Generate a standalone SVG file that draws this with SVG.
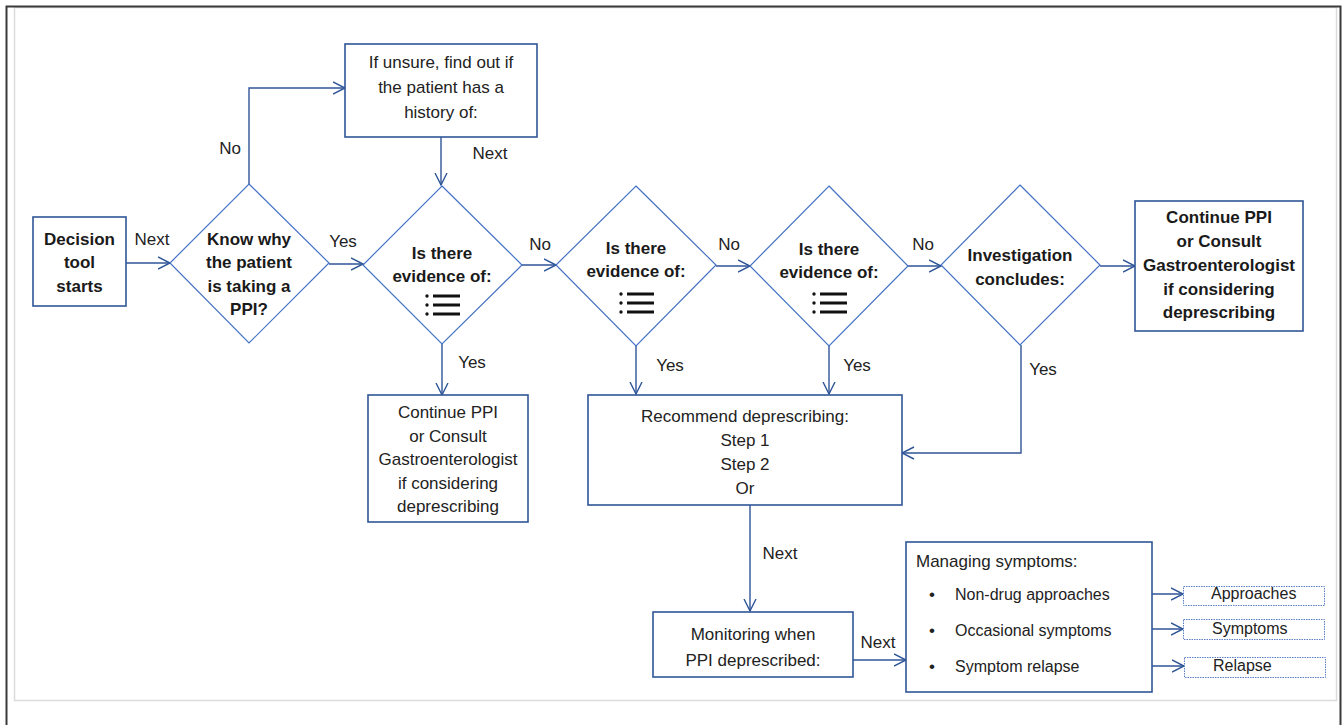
<svg xmlns="http://www.w3.org/2000/svg" width="1343" height="725" viewBox="0 0 1343 725">
<style>
  .box{fill:#fff;stroke:#2F5597;stroke-width:1.6}
  .dia{fill:#fff;stroke:#4472C4;stroke-width:1.2}
  .dot{fill:#fff;stroke:#5B7FC7;stroke-width:1;stroke-dasharray:1.5 1}
  .con{fill:none;stroke:#2F5597;stroke-width:1.4}
  text{font-family:"Liberation Sans",Arial,sans-serif;font-size:17px;fill:#222}
  .b{font-weight:bold;fill:#1a1a1a}
  .c{text-anchor:middle}
  .sm{font-size:16px}
  .ico{fill:#111}
</style>
<defs>
  <marker id="arr" markerUnits="userSpaceOnUse" markerWidth="14" markerHeight="14" viewBox="0 0 14 14" refX="12.5" refY="7" orient="auto">
    <path d="M0.5,1 L12.5,7 L0.5,13" fill="none" stroke="#2F5597" stroke-width="1.4"/>
  </marker>
  <g id="listicon">
    <circle cx="0" cy="0" r="1.7"/><circle cx="0" cy="9" r="1.7"/><circle cx="0" cy="18" r="1.7"/>
    <rect x="6" y="-1.5" width="27" height="3"/><rect x="6" y="7.5" width="27" height="3"/><rect x="6" y="16.5" width="27" height="3"/>
  </g>
</defs>
<rect x="0" y="0" width="1343" height="725" fill="#fff"/>
<g id="frame">
  <rect x="14.5" y="7.5" width="1322" height="693" fill="none" stroke="#dcdcdc" stroke-width="1.5"/>
  <path d="M6.5,725 V6.5 H1340.5 V725" fill="none" stroke="#3a3a3a" stroke-width="2"/>
</g>

<g id="connectors">
  <path class="con" d="M126,263 H170" marker-end="url(#arr)"/>
  <path class="con" d="M249,184 V88 H345" marker-end="url(#arr)"/>
  <path class="con" d="M441,137 V185" marker-end="url(#arr)"/>
  <path class="con" d="M329,264 H363" marker-end="url(#arr)"/>
  <path class="con" d="M522,265 H556" marker-end="url(#arr)"/>
  <path class="con" d="M716,266 H750" marker-end="url(#arr)"/>
  <path class="con" d="M908,266 H941" marker-end="url(#arr)"/>
  <path class="con" d="M1100,266 H1135" marker-end="url(#arr)"/>
  <path class="con" d="M442,344 V395" marker-end="url(#arr)"/>
  <path class="con" d="M636,346 V394" marker-end="url(#arr)"/>
  <path class="con" d="M829,346 V394" marker-end="url(#arr)"/>
  <path class="con" d="M1021,345 V453 H902" marker-end="url(#arr)"/>
  <path class="con" d="M750,505 V611" marker-end="url(#arr)"/>
  <path class="con" d="M853,660 H906" marker-end="url(#arr)"/>
  <path class="con" d="M1110,594 H1183" marker-end="url(#arr)"/>
  <path class="con" d="M1110,629 H1183" marker-end="url(#arr)"/>
  <path class="con" d="M1088,666 H1184" marker-end="url(#arr)"/>
  <text x="152" y="245" class="c">Next</text>
  <text x="230" y="154" class="c">No</text>
  <text x="343" y="247" class="c">Yes</text>
  <text x="490" y="159" class="c">Next</text>
  <text x="540" y="250" class="c">No</text>
  <text x="729" y="250" class="c">No</text>
  <text x="923" y="250" class="c">No</text>
  <text x="472" y="368" class="c">Yes</text>
  <text x="670" y="371" class="c">Yes</text>
  <text x="857" y="371" class="c">Yes</text>
  <text x="1043" y="375" class="c">Yes</text>
  <text x="780" y="559" class="c">Next</text>
  <text x="878" y="648" class="c">Next</text>
</g>

<g id="start">
  <rect class="box" x="33" y="217" width="93" height="89"/>
  <text class="b c" x="79.5" y="245">Decision</text>
  <text class="b c" x="79.5" y="268">tool</text>
  <text class="b c" x="79.5" y="292">starts</text>
</g>

<g id="know-why">
  <polygon class="dia" points="249,184 329,263 249,343 170,263"/>
  <text class="b c" x="249" y="245">Know why</text>
  <text class="b c" x="249" y="268">the patient</text>
  <text class="b c" x="249" y="292">is taking a</text>
  <text class="b c" x="249" y="315">PPI?</text>
</g>

<g id="if-unsure">
  <rect class="box" x="345" y="44" width="192" height="93"/>
  <text class="c" x="441" y="68">If unsure, find out if</text>
  <text class="c" x="441" y="93">the patient has a</text>
  <text class="c" x="441" y="118">history of:</text>
</g>

<g id="evidence-1">
  <polygon class="dia" points="442,186 522,265 442,344 363,265"/>
  <text class="b c" x="442" y="259">Is there</text>
  <text class="b c" x="442" y="282">evidence of:</text>
  <use href="#listicon" class="ico" x="427" y="296"/>
</g>

<g id="evidence-2">
  <polygon class="dia" points="636,186 716,265 636,346 556,265"/>
  <text class="b c" x="636" y="254">Is there</text>
  <text class="b c" x="636" y="277">evidence of:</text>
  <use href="#listicon" class="ico" x="621" y="294"/>
</g>

<g id="evidence-3">
  <polygon class="dia" points="829,186 908,266 829,346 750,266"/>
  <text class="b c" x="829" y="255">Is there</text>
  <text class="b c" x="829" y="278">evidence of:</text>
  <use href="#listicon" class="ico" x="814" y="294"/>
</g>

<g id="investigation">
  <polygon class="dia" points="1020,185 1100,265 1020,345 941,265"/>
  <text class="b c" x="1020" y="261">Investigation</text>
  <text class="b c" x="1020" y="285">concludes:</text>
</g>

<g id="continue-right">
  <rect class="box" x="1135" y="201" width="168" height="130"/>
  <text class="b c" x="1219" y="223">Continue PPI</text>
  <text class="b c" x="1219" y="247">or Consult</text>
  <text class="b c" x="1219" y="271">Gastroenterologist</text>
  <text class="b c" x="1219" y="295">if considering</text>
  <text class="b c" x="1219" y="318">deprescribing</text>
</g>

<g id="continue-lower">
  <rect class="box" x="368" y="395" width="160" height="127"/>
  <text class="c" x="448" y="418">Continue  PPI</text>
  <text class="c" x="448" y="442">or Consult</text>
  <text class="c" x="448" y="465">Gastroenterologist</text>
  <text class="c" x="448" y="489">if considering</text>
  <text class="c" x="448" y="512">deprescribing</text>
</g>

<g id="recommend">
  <rect class="box" x="588" y="395" width="314" height="110"/>
  <text class="c" x="745" y="422">Recommend deprescribing:</text>
  <text class="c" x="745" y="446">Step 1</text>
  <text class="c" x="745" y="470">Step 2</text>
  <text class="c" x="745" y="494">Or</text>
</g>

<g id="monitoring">
  <rect class="box" x="653" y="612" width="200" height="65"/>
  <text class="c" x="753" y="640">Monitoring when</text>
  <text class="c" x="753" y="666">PPI deprescribed:</text>
</g>

<g id="managing">
  <rect class="box" x="906" y="542" width="246" height="150"/>
  <text x="916" y="567">Managing symptoms:</text>
  <text x="932" y="600" class="c">•</text>
  <text x="955" y="600" class="sm">Non-drug approaches</text>
  <text x="932" y="636" class="c">•</text>
  <text x="955" y="636" class="sm">Occasional symptoms</text>
  <text x="932" y="672" class="c">•</text>
  <text x="955" y="672" class="sm">Symptom relapse</text>
</g>

<g id="approaches">
  <rect class="dot" x="1183.5" y="586.5" width="141" height="19"/>
  <text class="sm" x="1211" y="599">Approaches</text>
</g>
<g id="symptoms">
  <rect class="dot" x="1183.5" y="619.5" width="141" height="20"/>
  <text class="sm" x="1212" y="634">Symptoms</text>
</g>
<g id="relapse">
  <rect class="dot" x="1184.5" y="657.5" width="141" height="20"/>
  <text class="sm" x="1213" y="671">Relapse</text>
</g>
</svg>
